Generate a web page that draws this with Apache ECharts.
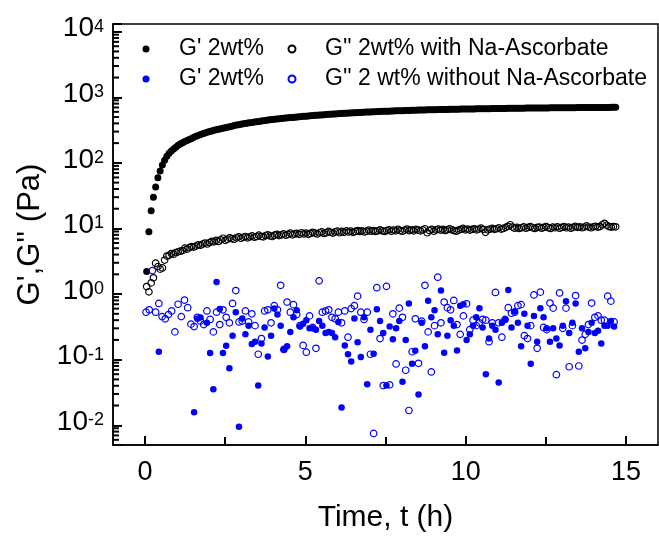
<!DOCTYPE html>
<html><head><meta charset="utf-8">
<script src="https://cdn.jsdelivr.net/npm/echarts@6/dist/echarts.min.js"></script>
<style>html,body{margin:0;padding:0;background:#fff}#c{width:659px;height:541px}</style>
</head><body><div id="c"></div>
<script>
const FONT = '"Liberation Sans", Arial, Helvetica, sans-serif';

// x ticks
const xTickLabels = [0, 5, 10, 15];
const xMinorTicks = [2.5, 7.5, 12.5];
// y decades shown as labels
const yDecades = [-2, -1, 0, 1, 2, 3, 4];

// sampling grids (regular measurement intervals, h)
const tStartBlack = 0.05, dtBlack = 0.07;
const tStartBlue = 0.03, dtBlue = 0.1;

// G' 2wt% with Na-Ascorbate (black filled), Pa
const gpBlack = [
 2.2, 8.9, 18.7, 29.8, 42.8, 59.3, 75, 93, 110, 126,
 140, 152, 163, 173, 185, 194, 202, 211, 219, 228,
 236, 245, 254, 262, 271, 278, 285, 293, 300, 307,
 314, 320, 326, 332, 338, 344, 350, 356, 363, 372,
 378, 383, 389, 394, 399, 404, 409, 414, 419, 424,
 429, 434, 439, 444, 449, 453, 458, 461, 466, 470,
 475, 479, 483, 486, 490, 494, 497, 501, 505, 508,
 512, 516, 520, 522, 526, 530, 532, 536, 538, 542,
 545, 549, 552, 555, 557, 560, 565, 568, 570, 573,
 575, 578, 580, 583, 585, 588, 590, 593, 595, 596,
 599, 601, 604, 605, 608, 610, 611, 614, 615, 618,
 619, 621, 623, 625, 626, 629, 630, 631, 634, 635,
 636, 638, 639, 640, 641, 643, 644, 645, 646, 648,
 649, 650, 651, 653, 654, 655, 655, 656, 658, 659,
 660, 660, 661, 663, 664, 664, 665, 666, 668, 668,
 669, 670, 670, 671, 673, 673, 674, 675, 675, 676,
 676, 678, 679, 679, 680, 680, 681, 681, 683, 684,
 684, 685, 685, 686, 686, 688, 688, 689, 689, 689,
 690, 690, 691, 691, 693, 693, 693, 694, 694, 695,
 695, 695, 696, 696, 696, 698, 698, 698, 699, 699,
 699, 700, 700, 700, 701, 701, 701, 703, 703, 703
];

// G'' 2wt% with Na-Ascorbate (black open), Pa
const gppBlack = [
 1.3, 1.08, 1.48, 1.77, 2.96, 2.62, 2.4, 2.5, 3.3, 3.8,
 3.9, 4.15, 4.05, 4.3, 4.4, 4.5, 4.6, 5.0, 4.85, 5.1,
 5.3, 5.2, 5.4, 5.65, 5.55, 5.8, 6.0, 5.8, 6.1, 6.35,
 6.25, 6.6, 6.35, 6.7, 7.1, 6.6, 6.85, 7.2, 7.0, 6.85,
 7.2, 7.45, 7.1, 7.35, 7.55, 7.2, 7.45, 7.7, 7.35, 7.55,
 7.9, 7.55, 7.45, 7.8, 8.0, 7.7, 7.55, 7.9, 8.15, 7.8,
 8.0, 8.25, 7.9, 8.15, 8.5, 8.0, 8.25, 8.4, 8.15, 8.6,
 8.25, 8.5, 8.15, 8.4, 8.75, 8.5, 8.25, 8.6, 8.85, 8.4,
 8.6, 9.0, 8.75, 8.5, 8.85, 9.1, 8.6, 9.0, 8.75, 9.2,
 8.85, 9.1, 8.75, 9.0, 9.3, 9.0, 9.2, 8.85, 9.1, 9.45,
 9.1, 9.3, 9.0, 9.2, 9.55, 9.2, 9.0, 9.3, 9.55, 9.1,
 9.45, 9.2, 9.7, 9.3, 9.1, 9.45, 9.8, 9.3, 9.55, 9.2,
 9.7, 9.45, 9.2, 9.55, 9.9, 8.6, 9.3, 9.7, 9.1, 9.55,
 9.8, 9.45, 9.7, 9.3, 9.55, 9.9, 9.55, 9.3, 9.1, 9.45,
 9.7, 10.0, 9.55, 9.8, 9.45, 9.7, 9.9, 9.55, 9.8, 10.1,
 9.7, 8.75, 9.55, 9.8, 10.0, 9.7, 9.9, 10.25, 9.8, 10.0,
 10.4, 10.8, 11.4, 10.5, 10.1, 10.4, 10.0, 10.25, 10.6, 10.1,
 10.4, 10.7, 10.25, 10.0, 10.4, 10.5, 10.1, 10.4, 10.7, 10.25,
 10.0, 10.5, 10.25, 10.6, 10.1, 10.4, 10.7, 10.25, 10.5, 10.1,
 10.4, 10.8, 10.4, 10.6, 10.25, 10.5, 10.95, 10.5, 10.25, 10.6,
 10.8, 10.5, 10.7, 11.4, 12.0, 11.2, 10.7, 10.5, 10.7, 10.6
];

// G' 2wt% without Na-Ascorbate (blue filled), Pa; null = no visible point
const gpBlue = [
 null, null, null, null, 0.132, null, null, null, null, null,
 null, null, null, null, null, 0.0158, 0.42, 0.44, null, 0.365,
 0.126, 0.0353, 1.53, 0.59, 0.126, 0.163, 0.074, 0.232, 0.53, 0.0095,
 0.425, 0.243, 0.33, 0.173, 0.187, 0.0403, 0.176, 0.31, 0.112, 0.232,
 0.6, 0.487, 0.33, 0.143, 0.16, 0.265, 0.442, 0.565, 0.32, 0.354,
 0.4, 0.3, 0.3, 0.287, 0.387, 0.33, 0.254, 0.265, 0.254, 0.22,
 0.376, 0.0187, 0.165, 0.121, 0.094, 0.425, 0.184, 0.11, 0.442, 0.042,
 0.287, 0.123, 0.587, 0.387, 0.254, 0.0403, 0.32, 0.205, 0.3, 0.387,
 0.046, 0.199, 0.72, 0.087, 0.137, 0.0295, 0.365, 0.16, 0.79, 0.442,
 0.565, 0.243, 1.13, 0.128, 0.232, 0.4, 0.33, 0.138, 0.665, 0.7,
 0.199, 0.243, 0.33, 0.442, 0.61, 0.31, 0.06, 0.21, 0.33, 0.287,
 0.045, 0.365, 0.41, 1.15, 0.31, 0.54, 0.365, 0.16, 0.5, 0.33,
 0.087, 0.465, 0.188, 0.61, 0.442, 0.3, 0.188, 0.3, 0.21, 0.165,
 0.33, 0.78, 0.254, 0.365, 0.72, 0.132, 0.3, 0.149, 0.265, 0.365,
 0.254, 0.276, 0.176, 0.33, 0.33, 0.387, 0.32
];

// G'' 2 wt% without Na-Ascorbate (blue open), Pa
const gppBlue = [
 0.53, 0.575, 2.28, 0.53, 0.72, 0.453, 0.42, 0.487, 0.553, 0.265,
 0.7, 0.453, 0.81, 0.62, 0.348, 0.32, 0.442, 0.387, 0.343, 0.553,
 0.41, 0.265, 0.53, 0.343, 0.575, 0.442, 0.365, 0.72, 1.13, 0.376,
 0.387, 0.553, 0.376, 0.5, 0.33, 0.121, 0.21, 0.553, 0.575, 0.365,
 0.665, 0.575, 1.36, 0.143, 0.755, 0.53, 0.69, 0.487, 0.33, 0.165,
 0.13, 0.465, 0.31, 0.149, 1.59, 0.53, 0.553, 0.575, 0.442, 0.42,
 0.53, 0.365, 0.553, 0.22, 0.6, 0.665, 0.93, 0.53, 0.41, 0.53,
 0.121, 0.0075, 1.25, 0.21, 0.0403, 1.31, 0.0413, 0.5, 0.086, 0.61,
 0.442, 0.069, 0.0168, 0.132, 0.42, 0.088, 0.387, 1.36, 0.265, 0.065,
 0.33, 1.81, 0.365, 0.755, 0.62, 0.575, 0.8, 0.343, 0.243, 0.465,
 0.71, 0.287, 0.4, 0.33, 0.365, 0.41, 0.4, 0.188, 0.365, 1.06,
 0.365, 0.22, 0.41, 0.62, 0.51, 0.53, 0.665, 0.69, 0.232, 0.21,
 0.33, 0.97, 0.149, 1.07, 0.31, 0.287, 0.73, 0.61, 0.059, 1.04,
 0.3, 0.61, 0.078, 0.33, 0.95, 0.08, 0.199, 0.243, 0.343, 0.73,
 0.442, 0.465, 0.4, 0.4, 0.93, 0.78, 0.376
];

const names = ["G' 2wt%", "G'' 2wt% with Na-Ascorbate", "G' 2wt% ", "G'' 2 wt% without Na-Ascorbate"];

function pairs(vals, t0, dt) {
  const out = [];
  vals.forEach((v, i) => { if (v != null) out.push([+(t0 + i * dt).toFixed(3), v]); });
  return out;
}

const X_MIN = -1, X_MAX = 16, Y_MIN = 0.005, Y_MAX = 13100;

// minor log ticks 2..9 x 10^k inside the axis range (drawn on the left axis)
const yMinor = [];
for (let k = -3; k <= 4; k++) for (let m = 2; m <= 9; m++) {
  const v = m * Math.pow(10, k);
  if (v > Y_MIN && v < Y_MAX) yMinor.push([X_MIN, v]);
}

const chart = echarts.init(document.getElementById('c'), null, {renderer: 'canvas'});
chart.setOption({
  animation: false,
  backgroundColor: '#fff',
  grid: {left: 113, top: 24, right: 1, bottom: 96, show: true, borderColor: '#000', borderWidth: 1.5},
  legend: [
    {left: 142.5, top: 34, padding: 0, orient: 'vertical', itemWidth: 56, itemHeight: 7, itemGap: 0, selectedMode: false,
     data: [names[0], names[2]], textStyle: {fontSize: 23, lineHeight: 30, fontFamily: FONT, color: '#000'}},
    {left: 287.5, top: 34, padding: 0, orient: 'vertical', itemWidth: 56, itemHeight: 7, itemGap: 0, selectedMode: false,
     data: [names[1], names[3]], textStyle: {fontSize: 23, lineHeight: 30, fontFamily: FONT, color: '#000'}}
  ],
  xAxis: [{
    type: 'value', min: X_MIN, max: X_MAX, z: 10,
    axisLine: {onZero: false, lineStyle: {color: '#000', width: 1.5}},
    axisTick: {show: true, inside: true, length: 9, customValues: xTickLabels, lineStyle: {color: '#000', width: 2}},
    axisLabel: {customValues: xTickLabels, margin: 14, fontSize: 27, color: '#000', fontFamily: FONT},
    splitLine: {show: false},
    name: 'Time, t (h)', nameLocation: 'middle', nameGap: 58,
    nameTextStyle: {fontSize: 30, color: '#000', fontFamily: FONT}
  }, {
    type: 'value', min: X_MIN, max: X_MAX, position: 'bottom', z: 10,
    axisLine: {show: false, onZero: false},
    axisTick: {show: true, inside: true, length: 8, customValues: xMinorTicks, lineStyle: {color: '#000', width: 2}},
    axisLabel: {show: false}, splitLine: {show: false}
  }],
  yAxis: {
    type: 'log', logBase: 10, min: Y_MIN, max: Y_MAX, z: 10,
    axisLine: {show: true, onZero: false, lineStyle: {color: '#000', width: 1.5}},
    axisTick: {show: true, inside: true, length: 9, lineStyle: {color: '#000', width: 2}},
    splitLine: {show: false},
    axisLabel: {
      margin: 9, fontSize: 28,
      formatter: function (v) {
        const e = Math.log10(v), r = Math.round(e);
        if (Math.abs(e - r) > 1e-6 || yDecades.indexOf(r) < 0) return '';
        return '{b|10}{s|' + r + '}';
      },
      rich: {
        b: {fontSize: 28, lineHeight: 28, padding: [0, 0, 6, 0], fontFamily: FONT, color: '#000'},
        s: {fontSize: 18, lineHeight: 18, verticalAlign: 'top', fontFamily: FONT, color: '#000'}
      }
    },
    name: "G',G'' (Pa)", nameLocation: 'middle', nameGap: 62, nameRotate: 90,
    nameTextStyle: {fontSize: 31, color: '#000', fontFamily: FONT}
  },
  series: [
    {name: names[0], type: 'scatter', symbolSize: 7,
     itemStyle: {color: '#000', opacity: 1}, data: pairs(gpBlack, tStartBlack, dtBlack)},
    {name: names[1], type: 'scatter', symbolSize: 6.5,
     itemStyle: {color: 'rgba(255,255,255,0)', borderColor: '#000', borderWidth: 1.2, opacity: 1}, data: pairs(gppBlack, tStartBlack, dtBlack)},
    {name: names[2], type: 'scatter', symbolSize: 6.5,
     itemStyle: {color: '#0000ff', opacity: 1}, data: pairs(gpBlue, tStartBlue, dtBlue)},
    {name: names[3], type: 'scatter', symbolSize: 6.5,
     itemStyle: {color: 'rgba(255,255,255,0)', borderColor: '#0000ff', borderWidth: 1.2, opacity: 1}, data: pairs(gppBlue, tStartBlue, dtBlue)},
    {name: 'yMinorTicks', type: 'scatter', silent: true, clip: false, z: 5,
     symbol: 'rect', symbolSize: [6, 2], symbolOffset: [3, 0],
     itemStyle: {color: '#000', opacity: 1}, data: yMinor}
  ]
});
</script>
</body></html>
